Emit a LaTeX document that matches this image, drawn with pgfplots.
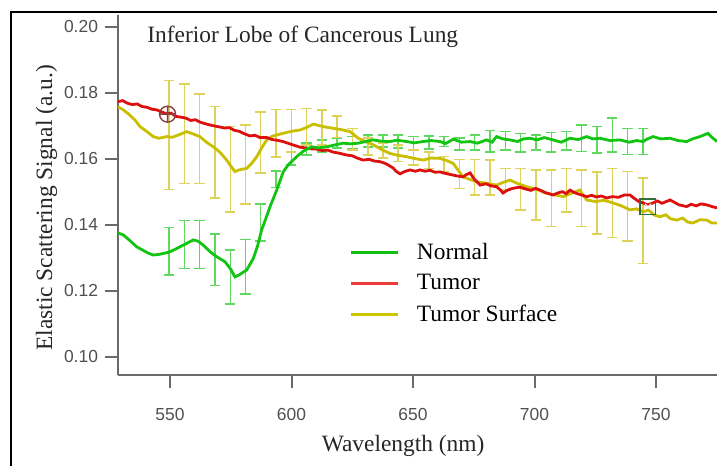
\documentclass[border=0pt]{standalone}
\usepackage{fontspec}
\setmainfont{Liberation Serif}
\setsansfont{Liberation Sans}
\usepackage{pgfplots}
\usepackage{pgfplotstable}
\pgfplotsset{compat=1.18}
\definecolor{cgreen}{HTML}{12C412}
\definecolor{cred}{HTML}{DD1010}
\definecolor{cyellow}{HTML}{C9BE00}
\definecolor{gbar}{HTML}{5ED85E}
\definecolor{ybar}{HTML}{DDD35A}
\definecolor{axgray}{HTML}{6A6A6A}
\definecolor{tickgray}{HTML}{505050}
\definecolor{lgreen}{HTML}{10C010}
\definecolor{lred}{HTML}{F03A3A}
\definecolor{lyellow}{HTML}{CEC400}
\definecolor{curA}{HTML}{8B3F3F}
\definecolor{curB}{HTML}{2F6F3F}

\pgfplotstableread{
x y
528.6 .1773
530.5 .1776
532.5 .1768
534.5 .1764
536.5 .1766
538.5 .1758
540.5 .1756
542.5 .1750
544.5 .1748
546.5 .1742
548.6 .1736
550.5 .1738
552.5 .1728
554.5 .1726
556.5 .1723
558.5 .1716
560.5 .1718
562.3 .1711
564.5 .1706
566.5 .1702
568.5 .1699
570.5 .1696
572.5 .1693
574.5 .1694
576.5 .1686
578.5 .1683
580.5 .1676
582.9 .1669
585 .1671
587 .1664
589.9 .1664
592 .1658
594 .1656
596.5 .1652
598.5 .1647
600.5 .1642
603.5 .1635
605.5 .1633
608 .1630
610.4 .1629
612.5 .1625
615 .1626
617.1 .1620
619.5 .1617
622.7 .1611
625 .1609
627 .1602
629.4 .1596
632 .1598
634 .1593
636.4 .1591
638.5 .1586
640 .1580
641.8 .1572
643 .1562
644.7 .1554
646.5 .1561
648.8 .1566
651 .1562
652.9 .1566
655 .1562
657 .1565
659 .1559
661.1 .1560
663 .1556
665.5 .1552
668 .1548
670.6 .1545
672 .1552
673.5 .1557
675 .1540
677.6 .1520
680 .1524
682 .1518
684.4 .1515
686 .1505
687 .1496
689 .1505
691 .1510
694 .1514
696 .1509
698.5 .1504
700.5 .1510
702.3 .1505
704.5 .1497
706 .1494
707.6 .1490
709.5 .1496
711.5 .1500
713 .1494
714.6 .1505
716.5 .1497
718.5 .1492
721.5 .1485
723.5 .1489
725.5 .1484
727.5 .1487
729.7 .1481
732 .1485
734.5 .1483
737 .1490
739.3 .1490
741 .1480
743 .1470
744.7 .1466
746.5 .1460
748.8 .1466
750.5 .1472
752.5 .1465
755.8 .1475
757.5 .1468
759.5 .1460
762.6 .1455
764.5 .1462
766.5 .1457
768.5 .1463
770.9 .1460
773 .1455
775.1 .1451
}\tumor

\pgfplotstableread{
x y
528.6 .1375
530.8 .1369
533 .1355
536.3 .1333
539 .1322
541 .1314
543.1 .1308
545.5 .1310
548 .1314
550 .1318
552 .1325
554.1 .1333
556.5 .1342
559.6 .1354
561.5 .1350
563.7 .1338
566.5 .1318
569.2 .1303
572.6 .1288
575 .1265
576.7 .1242
578.5 .1248
581.6 .1263
584.3 .1298
586 .1335
587.7 .1384
589.5 .1420
591.2 .1455
593.9 .1505
596.6 .1560
598.5 .1580
600.7 .1596
602.7 .1610
604.9 .1623
608.3 .1636
611 .1633
614.5 .1636
618 .1642
621.3 .1647
624.5 .1645
627.4 .1647
630.5 .1652
633.5 .1657
637 .1653
640.5 .1652
643.5 .1656
647.4 .1652
650.5 .1648
654.1 .1652
657.5 .1655
661.1 .1652
663.5 .1646
666.5 .1659
670 .1650
673.5 .1652
676.5 .1647
680.3 .1657
682.5 .1650
684.4 .1667
687 .1660
689.9 .1657
693 .1652
695.5 .1660
698.1 .1662
701 .1657
704 .1664
707.6 .1657
711 .1650
714.6 .1662
718 .1658
721.5 .1667
724 .1660
727 .1662
731 .1655
735.2 .1657
739 .1650
742 .1655
744.7 .1652
746.5 .1660
748.8 .1667
752 .1660
755.8 .1662
759 .1655
762.6 .1652
765 .1660
768.1 .1667
771.4 .1677
773 .1665
775.1 .1652
}\normal

\pgfplotstableread{
x y
528.6 .1757
530.8 .1748
533 .1735
535.5 .1718
537.7 .1697
540 .1685
543.1 .1667
545.5 .1662
548.6 .1667
551 .1665
553.5 .1672
556.9 .1682
559.5 .1675
562.3 .1667
565 .1650
567.8 .1636
570.5 .1620
573.3 .1596
575 .1578
576.7 .1561
578.5 .1566
581.6 .1571
583.5 .1585
585.7 .1606
587.5 .1630
589.8 .1657
592 .1668
594 .1672
596.6 .1677
600 .1683
603.5 .1687
606 .1694
609 .1705
611.5 .1700
614 .1696
617.2 .1692
620.5 .1688
624.1 .1682
627.5 .1662
630.5 .1652
633.7 .1642
637 .1628
640.5 .1616
644 .1610
647.4 .1606
651 .1600
654.2 .1596
657.5 .1602
661.1 .1601
664 .1594
666.5 .1586
668.5 .1566
670.6 .1545
673.5 .1537
676.2 .1530
680 .1526
684.4 .1520
687 .1528
689.9 .1535
693 .1525
696.8 .1515
700.5 .1508
705 .1495
708.5 .1490
711.9 .1485
715 .1495
718.7 .1505
720 .1490
721.5 .1475
725 .1470
728.5 .1474
732.3 .1466
735.5 .1458
739.3 .1445
742 .1448
744.7 .1439
747 .1445
749 .1430
751.6 .1424
754 .1430
756 .1418
758.5 .1414
761 .1420
763 .1408
765.2 .1405
768 .1415
770.9 .1414
773 .1405
775.1 .1405
}\surface

\pgfplotstableread{
x y e
549.6 .13198 .00723
555.9 .1340 .0072
562.2 .1340 .0072
568.5 .12935 .00783
574.8 .12415 .00818
581.1 .12729 .00829
587.3 .14067 .0056
593.6 .15377 .0025
599.9 .16006 .0020
606.2 .1629 .0018
612.5 .1639 .0018
618.8 .1647 .0015
625.1 .1649 .0018
631.4 .1654 .0018
637.7 .1654 .0018
643.9 .1652 .0020
650.2 .1647 .0020
656.5 .1649 .0020
662.8 .1652 .0015
669.1 .1644 .0018
675.4 .1649 .0023
681.7 .1653 .0032
688.0 .1654 .0028
694.3 .1649 .0028
700.6 .1649 .0023
706.9 .1650 .0029
713.1 .1654 .0028
719.4 .1662 .0040
725.7 .1657 .0040
732.0 .1672 .0051
738.3 .1652 .0040
744.6 .1652 .0040
}\normalerr

\pgfplotstableread{
x y e
549.6 .16715 .01648
555.9 .16760 .01505
562.2 .16608 .01353
568.5 .16199 .01390
574.8 .15684 .01298
581.1 .15821 .01200
587.3 .16497 .00924
593.6 .16770 .00718
599.9 .16847 .00644
606.2 .16971 .00556
612.5 .16945 .0053
618.8 .1697 .0033
625.1 .1659 .0033
631.4 .1637 .0026
637.7 .1625 .0023
643.9 .1616 .0025
650.2 .1604 .0023
656.5 .1596 .0025
662.8 .1583 .0023
669.1 .1554 .0044
675.4 .1544 .0054
681.7 .1543 .0053
688.0 .1538 .0033
694.3 .1508 .0063
700.6 .1490 .0076
706.9 .1480 .0086
713.1 .1505 .0066
719.4 .1480 .0086
725.7 .1466 .0094
732.0 .1466 .0105
738.3 .1456 .0105
744.6 .1412 .0129
}\surfaceerr

\begin{document}
\begin{tikzpicture}
\path[use as bounding box] (-59bp,-45.5bp) rectangle (299.5bp,187.5bp);
\draw[line width=0.8bp, black] (-53.5bp,-46bp) -- (-53.5bp,181.5bp) -- (300bp,181.5bp);
\begin{axis}[
  at={(0,0)}, anchor=south west,
  scale only axis, width=299.5bp, height=180bp,
  xmin=528.6, xmax=775.1, ymin=0.09445, ymax=0.20355,
  axis x line*=bottom, axis y line*=left,
  axis line style={draw=axgray, line width=1bp, -},
  tick align=outside, major tick length=6.5bp,
  every tick/.style={draw=axgray, line width=1bp},
  xtick={550,600,650,700,750},
  ytick={0.10,0.12,0.14,0.16,0.18,0.20},
  scaled y ticks=false, scaled x ticks=false,
  /pgf/number format/assume math mode=true,
  ticklabel style={font=\fontsize{8.75}{10}\selectfont\sffamily, text=tickgray},
  yticklabel style={/pgf/number format/.cd, fixed, fixed zerofill, precision=2},
  xticklabel style={/pgf/number format/set thousands separator={}, yshift=-6.5bp},
  xlabel={Wavelength (nm)},
  ylabel={Elastic Scattering Signal (a.u.)},
  label style={font=\fontsize{11.75}{14}\selectfont, text=black!85},
  xlabel style={at={(axis description cs:0.476,0)}, anchor=base, yshift=-38.4bp},
  ylabel style={at={(axis description cs:-0.110,0.464)}, anchor=base},
  legend style={at={(axis description cs:0.385,0.378)}, anchor=north west, draw=none, fill=none,
    font=\fontsize{11.75}{14}\selectfont, row sep=2bp, inner sep=0pt,
    /tikz/every odd column/.append style={column sep=7bp}},
  legend cell align=left,
  legend image code/.code={\draw[#1, line width=1.5bp] (0bp,0bp) -- (23.5bp,0bp);},
  clip=true,
]
\addplot[gbar, line width=0.75bp, draw=none, mark=none, forget plot,
  error bars/.cd, y dir=both, y explicit, error mark=|,
  error bar style={draw=gbar, line width=0.75bp},
  error mark options={draw=gbar, line width=0.75bp, mark size=2.6bp}]
  table[x=x, y=y, y error=e] {\normalerr};
\addplot[ybar, line width=0.75bp, draw=none, mark=none, forget plot,
  error bars/.cd, y dir=both, y explicit, error mark=|,
  error bar style={draw=ybar, line width=0.75bp},
  error mark options={draw=ybar, line width=0.75bp, mark size=2.6bp}]
  table[x=x, y=y, y error=e] {\surfaceerr};
\addplot[cyellow, line width=1.4bp, mark=none, forget plot] table[x=x, y=y] {\surface};
\addplot[cred, line width=1.4bp, mark=none, forget plot] table[x=x, y=y] {\tumor};
\addplot[cgreen, line width=1.4bp, mark=none, forget plot] table[x=x, y=y] {\normal};
\addplot[only marks, mark=oplus, mark size=4bp, curA, mark options={line width=0.7bp}, forget plot]
  coordinates {(549.0,0.1735)};
\addplot[only marks, mark=square, mark size=3.8bp, curB, mark options={line width=0.9bp}, forget plot]
  coordinates {(746.7,0.1454)};
\addplot[only marks, mark=x, mark size=2.2bp, white, mark options={line width=0.6bp}, forget plot]
  coordinates {(746.7,0.1454)};
\node[anchor=base west, inner sep=0pt, font=\fontsize{11.75}{14}\selectfont, text=black!85]
  at (rel axis cs:0.0484,0.9233) {Inferior Lobe of Cancerous Lung};
\addlegendimage{lgreen}
\addlegendentry{Normal}
\addlegendimage{lred}
\addlegendentry{Tumor}
\addlegendimage{lyellow}
\addlegendentry{Tumor Surface}
\end{axis}
\end{tikzpicture}
\end{document}
